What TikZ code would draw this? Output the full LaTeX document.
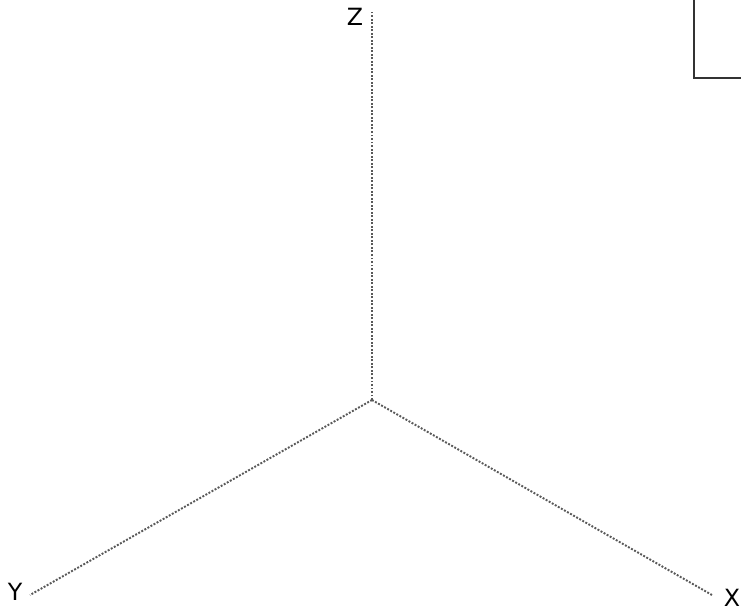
\documentclass[tikz,border=0pt]{standalone}
\usepackage{fontspec}
\setmainfont{DejaVu Sans}

\begin{document}
\begin{tikzpicture}[x=0.02cm,y=-0.02cm,
    axis/.style={draw=black!65, line width=1.1pt, dash pattern=on 1.1pt off 0.9pt},
    axislabel/.style={inner sep=0pt, font=\fontsize{13.5}{15}\selectfont}]
    \useasboundingbox (0,0) rectangle (741,612);
    \coordinate (origin) at (372,400);
    \coordinate (z-end) at (372,10);
    \coordinate (y-end) at (30,595);
    \coordinate (x-end) at (712,595);
    \node[axislabel] (z-label) at (355,17) {Z};
    \node[axislabel] (y-label) at (15,592) {Y};
    \node[axislabel] (x-label) at (732,598) {X};

    \draw[axis] (origin) -- (z-end);
    \draw[axis] (origin) -- (y-end);
    \draw[axis] (origin) -- (x-end);

    % corner box
    \coordinate (box-top) at (694,-5);
    \coordinate (box-corner) at (694,78);
    \coordinate (box-right) at (746,78);
    \draw[black!80, line width=1.6pt] (box-top) -- (box-corner) -- (box-right);
\end{tikzpicture}
\end{document}
